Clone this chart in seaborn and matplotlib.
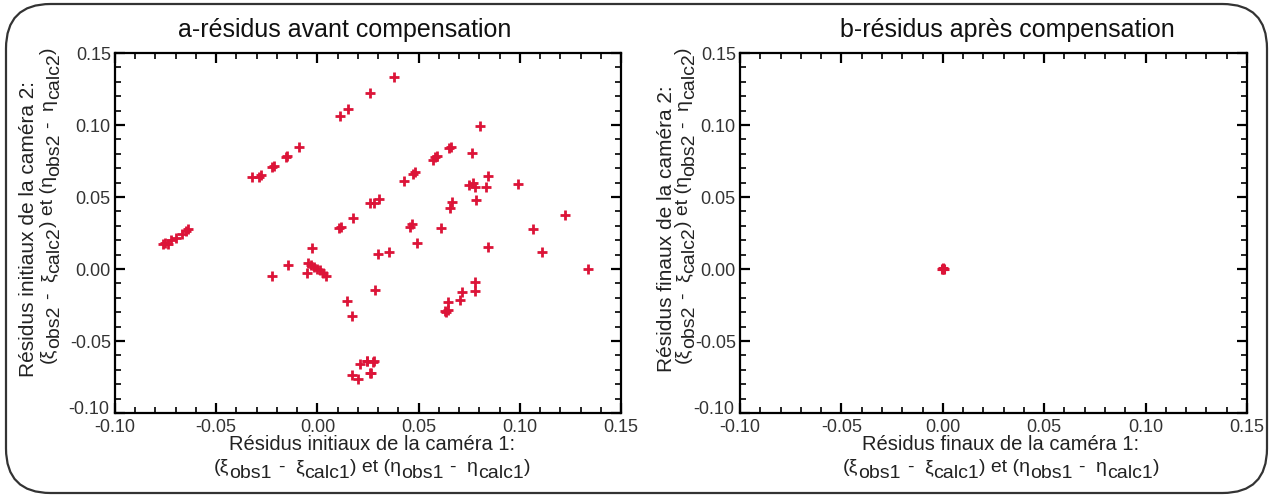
import numpy as np
import pandas as pd
import matplotlib
matplotlib.use("Agg")
import matplotlib.pyplot as plt
import seaborn as sns
from matplotlib.patches import FancyBboxPatch
from matplotlib.transforms import IdentityTransform, ScaledTranslation
from matplotlib.ticker import MultipleLocator, FormatStrFormatter

# ---- data ----
x_before = [
    -0.0763, -0.0752, -0.0740, -0.0724, -0.0697, -0.0669, -0.0648, -0.0637,
    -0.0324, -0.0291, -0.0279, -0.0222, -0.0212, -0.0156, -0.0151, -0.0090,
    0.0112, 0.0152, 0.0262, 0.0377,
    0.0115, 0.0178, 0.0260, 0.0281, 0.0305,
    0.0426, 0.0471, 0.0482, 0.0570, 0.0580, 0.0590, 0.0650, 0.0660,
    0.0765, 0.0803, 0.0844, 0.0749, 0.0770, 0.0778, 0.0831, 0.0992,
    0.0782, 0.0666, 0.0655, 0.1223, 0.0466, 0.0458, 0.0610, 0.1066,
    0.0490, 0.0298, 0.0354, 0.0844, 0.1112, 0.1338,
    0.0109, -0.0028, -0.0143, -0.0222, -0.0052,
    -0.0044, -0.0030, -0.0015, 0.0000, 0.0015, 0.0030, 0.0043,
    0.0285, 0.0778, 0.0778, 0.0716, 0.0704,
    0.0647, 0.0635, 0.0647, 0.0630,
    0.0148, 0.0170,
    0.0244, 0.0281, 0.0264,
    0.0211, 0.0244, 0.0276, 0.0170, 0.0202, 0.0260,
]
y_before = [
    0.0171, 0.0180, 0.0171, 0.0201, 0.0213, 0.0241, 0.0264, 0.0278,
    0.0637, 0.0637, 0.0653, 0.0706, 0.0718, 0.0780, 0.0787, 0.0845,
    0.1065, 0.1110, 0.1220, 0.1335,
    0.0294, 0.0356, 0.0456, 0.0460, 0.0488,
    0.0609, 0.0658, 0.0672, 0.0757, 0.0776, 0.0785, 0.0838, 0.0850,
    0.0803, 0.0993, 0.0646, 0.0583, 0.0595, 0.0572, 0.0567, 0.0590,
    0.0479, 0.0467, 0.0421, 0.0375, 0.0310, 0.0294, 0.0283, 0.0276,
    0.0178, 0.0104, 0.0120, 0.0151, 0.0116, 0.0000,
    0.0287, 0.0148, 0.0028, -0.0049, -0.0030,
    0.0040, 0.0028, 0.0015, 0.0003, -0.0010, -0.0025, -0.0047,
    -0.0146, -0.0088, -0.0151, -0.0162, -0.0215,
    -0.0227, -0.0296, -0.0285, -0.0292,
    -0.0222, -0.0324,
    -0.0639, -0.0639, -0.0724,
    -0.0660, -0.0637, -0.0648, -0.0736, -0.0766, -0.0720,
]
x_after = [0.0, 0.0004, -0.0004, 0.0]
y_after = [0.0, 0.0, 0.0, 0.0004]

tick_values = [-0.10, -0.05, 0.00, 0.05, 0.10, 0.15]
titles = ["a-résidus avant compensation", "b-résidus après compensation"]
xlabel_line1 = ["Résidus initiaux de la caméra 1:", "Résidus finaux de la caméra 1:"]
ylabel_line1 = ["Résidus initiaux de la caméra 2:", "Résidus finaux de la caméra 2:"]

sns.set_style("white")
plt.rcParams["font.family"] = ["Liberation Sans", "DejaVu Sans"]

W, H = 1273, 497
fig = plt.figure(figsize=(W / 100, H / 100), dpi=100)
renderer = fig.canvas.get_renderer()

frame = FancyBboxPatch((6 / W, 4 / H), 1261 / W, 489 / H,
                       boxstyle="round,pad=0,rounding_size=0.035",
                       transform=fig.transFigure, fill=False,
                       edgecolor="#333333", linewidth=1.6, mutation_aspect=W / H)
fig.patches.append(frame)

red = "#dc1438"
ax1 = fig.add_axes([115 / W, (H - 413) / H, 506 / W, 360 / H])
ax2 = fig.add_axes([740 / W, (H - 413) / H, 507 / W, 360 / H])

df1 = pd.DataFrame({"x": x_before, "y": y_before})
df2 = pd.DataFrame({"x": x_after, "y": y_after})
sns.scatterplot(data=df1, x="x", y="y", ax=ax1, marker="+", color=red, s=55, linewidth=2.0)
sns.scatterplot(data=df2, x="x", y="y", ax=ax2, marker="+", color=red, s=55, linewidth=2.2)

TXT = "#222222"


def formula_pieces(n):
    # (text, raised?, gap after in px)
    return [("(ξ", True, 0), ("obs%s" % n, False, 6), ("-", True, 11),
            ("ξ", True, 0), ("calc%s" % n, False, 0), (") et (η", True, 0),
            ("obs%s" % n, False, 6), ("-", True, 11), ("η", True, 0),
            ("calc%s" % n, False, 0), (")", True, 0)]


def draw_line(pieces, center, baseline, vertical, size=14, raise_px=6):
    arts = []
    total = 0.0
    for s, raised, gap in pieces:
        t = fig.text(0, 0, s, transform=IdentityTransform(), fontsize=size,
                     color=TXT, ha="left", va="baseline",
                     rotation=90 if vertical else 0, rotation_mode="anchor")
        bb = t.get_window_extent(renderer)
        w = bb.height if vertical else bb.width
        arts.append((t, raised, w, gap))
        total += w + gap
    pos = center - total / 2.0
    for t, raised, w, gap in arts:
        r = raise_px if raised else 0
        if vertical:
            t.set_position((baseline - r, pos))
        else:
            t.set_position((pos, baseline + r))
        pos += w + gap


xcenters = [372, 1001]
ylabel_x1 = [29, 667]
ylabel_base2 = [59, 694]
title_x = [345, 1007]

for i, ax in enumerate([ax1, ax2]):
    ax.set_xlim(-0.10, 0.15)
    ax.set_ylim(-0.10, 0.15)
    ax.set_xticks(tick_values)
    ax.set_yticks(tick_values)
    ax.xaxis.set_minor_locator(MultipleLocator(0.01))
    ax.yaxis.set_minor_locator(MultipleLocator(0.01))
    ax.xaxis.set_major_formatter(FormatStrFormatter("%.2f"))
    ax.yaxis.set_major_formatter(FormatStrFormatter("%.2f"))
    ax.tick_params(which="both", direction="in", top=True, right=True,
                   bottom=True, left=True, color="black")
    ax.tick_params(which="major", length=7, width=1.6, labelsize=13, pad=3,
                   labelcolor="#333333")
    ax.tick_params(axis="x", which="major", pad=4.5)
    ax.tick_params(which="minor", length=4, width=1.2)
    for sp in ax.spines.values():
        sp.set_color("black")
        sp.set_linewidth(1.6)
    ax.set_xlabel("")
    ax.set_ylabel("")
    # nudge the lowest y tick label up slightly so it clears the first x tick label
    fig.canvas.draw()
    lowest = ax.get_yticklabels()[0]
    lowest.set_transform(lowest.get_transform() +
                         ScaledTranslation(-2 / 100, 5 / 100, fig.dpi_scale_trans))

    # titles
    fig.text(title_x[i], H - 30, titles[i], transform=IdentityTransform(),
             ha="center", va="center", fontsize=18, color="#111111")
    # x label
    fig.text(xcenters[i], H - 445, xlabel_line1[i], transform=IdentityTransform(),
             ha="center", va="center", fontsize=14.5, color=TXT)
    draw_line(formula_pieces("1"), xcenters[i], H - 478, vertical=False)
    # y label
    fig.text(ylabel_x1[i], H - 229, ylabel_line1[i], transform=IdentityTransform(),
             ha="center", va="center", rotation=90, fontsize=15, color=TXT)
    draw_line(formula_pieces("2"), H - 205, ylabel_base2[i], vertical=True)

fig.savefig("out.png", dpi=100, facecolor="white")
